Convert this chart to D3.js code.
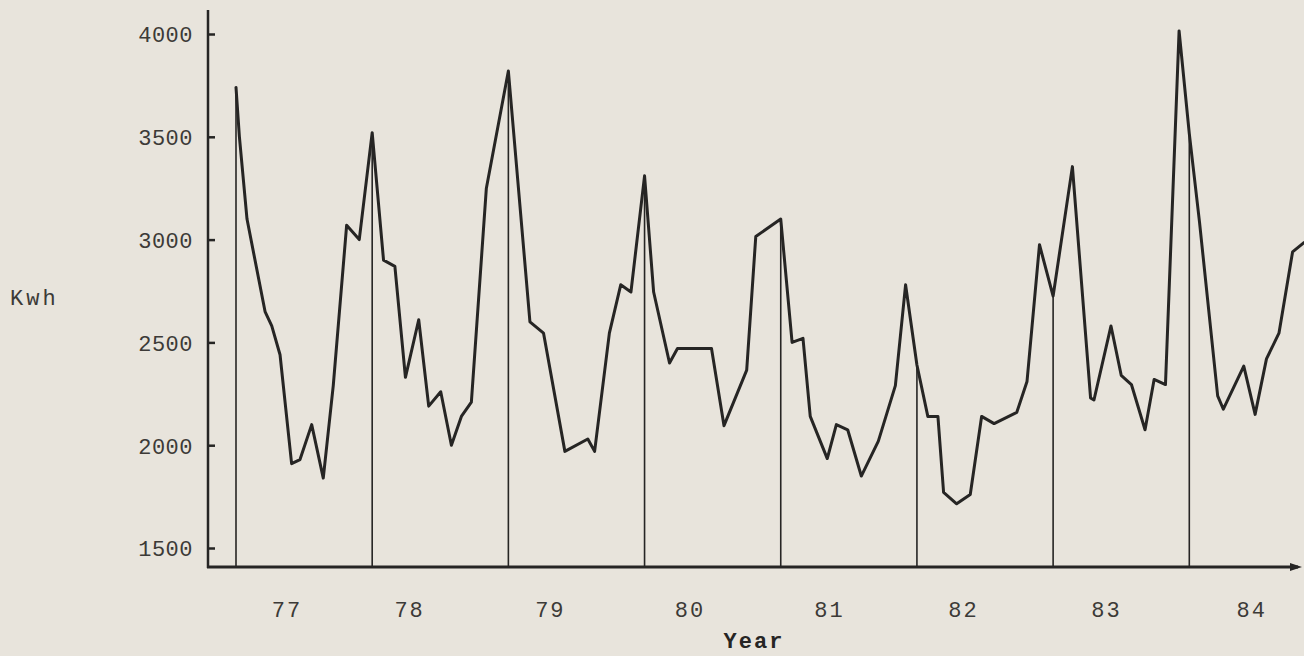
<!DOCTYPE html>
<html><head><meta charset="utf-8">
<script src="https://cdn.jsdelivr.net/npm/d3@7"></script>
<style>
html,body{margin:0;padding:0;background:#e8e4dc;}
svg{display:block;}
</style></head><body>
<svg id="c" width="1304" height="656"></svg>
<script>
// month index counted from January 1977 (0 = Jan 77)
const months = [0,0.3,0.97,2.56,3.15,3.88,4.9,5.64,6.67,7.69,8.57,9.75,10.86,
  12,13.0,14.0,14.93,16.1,16.98,18.04,18.98,19.86,20.74,22.06,
  24,25.9,27.1,28.98,31.0,31.6,32.9,33.9,34.8,
  36,36.8,38.2,38.9,41.9,43.0,45.0,45.8,
  48,49.0,49.96,50.6,52.1,52.9,53.9,55.1,56.6,58.1,59.0,
  60,60.96,61.85,62.35,63.5,64.7,65.7,66.8,68.8,69.7,70.8,
  72,73.7,75.3,75.6,77.1,78.0,78.9,80.1,80.9,81.9,83.1,
  84,84.9,86.5,87.0,88.8,89.8,90.8,91.9,93.1,94.1];
const kwh = [3740,3500,3100,2650,2580,2440,1910,1930,2100,1840,2290,3070,3000,
  3520,2900,2870,2330,2610,2190,2260,2000,2140,2210,3250,
  3820,2600,2545,1970,2030,1970,2545,2780,2745,
  3310,2745,2400,2470,2470,2095,2365,3015,
  3100,2500,2520,2140,1935,2100,2075,1850,2020,2290,2780,
  2390,2140,2140,1770,1715,1760,2140,2105,2160,2310,2975,
  2725,3355,2230,2220,2580,2340,2295,2075,2320,2295,4015,
  3515,3085,2240,2175,2385,2150,2420,2545,2940,2985];
const yearStarts = [0,12,24,36,48,60,72,84];
const yearLabels = ["77","78","79","80","81","82","83","84"];
const yearLabelMonths = [4.5,15.3,27.7,40.0,52.3,64.1,76.7,89.5];
const yTicks = [1500,2000,2500,3000,3500,4000];

const svg = d3.select("#c");
const ink = "#262524";
const txt = "#3c3a37";
const font = "'Liberation Mono','Courier New',monospace";

const x = d3.scaleLinear().domain([0,84]).range([236,1189.3]);
const y = d3.scaleLinear().domain([1500,4000]).range([548,34]);

const axisX0 = 208, axisY = 567;

// year start verticals, from axis to the data line
const data = months.map((m,i)=>({m, v:kwh[i]}));
svg.append("g").selectAll("line").data(yearStarts).join("line")
  .attr("x1", d=>x(d)).attr("x2", d=>x(d))
  .attr("y1", axisY)
  .attr("y2", d=>{ const p = data.find(q=>q.m===d); return y(p.v); })
  .attr("stroke", ink).attr("stroke-width", 1.6);

// data line
svg.append("path").datum(data)
  .attr("fill","none").attr("stroke",ink).attr("stroke-width",3)
  .attr("stroke-linejoin","round").attr("stroke-linecap","round")
  .attr("d", d3.line().x(d=>x(d.m)).y(d=>y(d.v)));

// y axis
const ya = svg.append("g").attr("transform",`translate(${axisX0},0)`)
  .call(d3.axisLeft(y).tickValues(yTicks).tickSizeInner(-7).tickSizeOuter(0).tickPadding(15).tickFormat(d3.format("d")));
ya.select(".domain").remove();
ya.selectAll(".tick line").attr("stroke",ink).attr("stroke-width",2.5);
ya.selectAll(".tick text").attr("fill",txt).attr("font-family",font).attr("font-size",22)
  .attr("letter-spacing",0.5).attr("dy","0.36em");
svg.append("line").attr("x1",axisX0).attr("x2",axisX0).attr("y1",10).attr("y2",axisY+1)
  .attr("stroke",ink).attr("stroke-width",2.5);

// x axis with arrow
svg.append("line").attr("x1",axisX0-1).attr("x2",1298).attr("y1",axisY).attr("y2",axisY)
  .attr("stroke",ink).attr("stroke-width",3);
svg.append("path").attr("d",`M1290,${axisY-4} L1302,${axisY} L1290,${axisY+4} Z`).attr("fill",ink);

// x labels
svg.append("g").selectAll("text").data(yearLabels).join("text")
  .attr("x",(d,i)=>x(yearLabelMonths[i])).attr("y",617)
  .attr("text-anchor","middle").attr("fill",txt).attr("letter-spacing",2)
  .attr("font-family",font).attr("font-size",22).text(d=>d);

svg.append("text").attr("x",754).attr("y",648).attr("text-anchor","middle")
  .attr("fill",ink).attr("font-family",font).attr("font-weight","bold")
  .attr("font-size",22).attr("letter-spacing",2).text("Year");
svg.append("text").attr("x",10).attr("y",305)
  .attr("fill",txt).attr("font-family",font).attr("font-size",22).attr("letter-spacing",3).text("Kwh");
</script>
</body></html>
